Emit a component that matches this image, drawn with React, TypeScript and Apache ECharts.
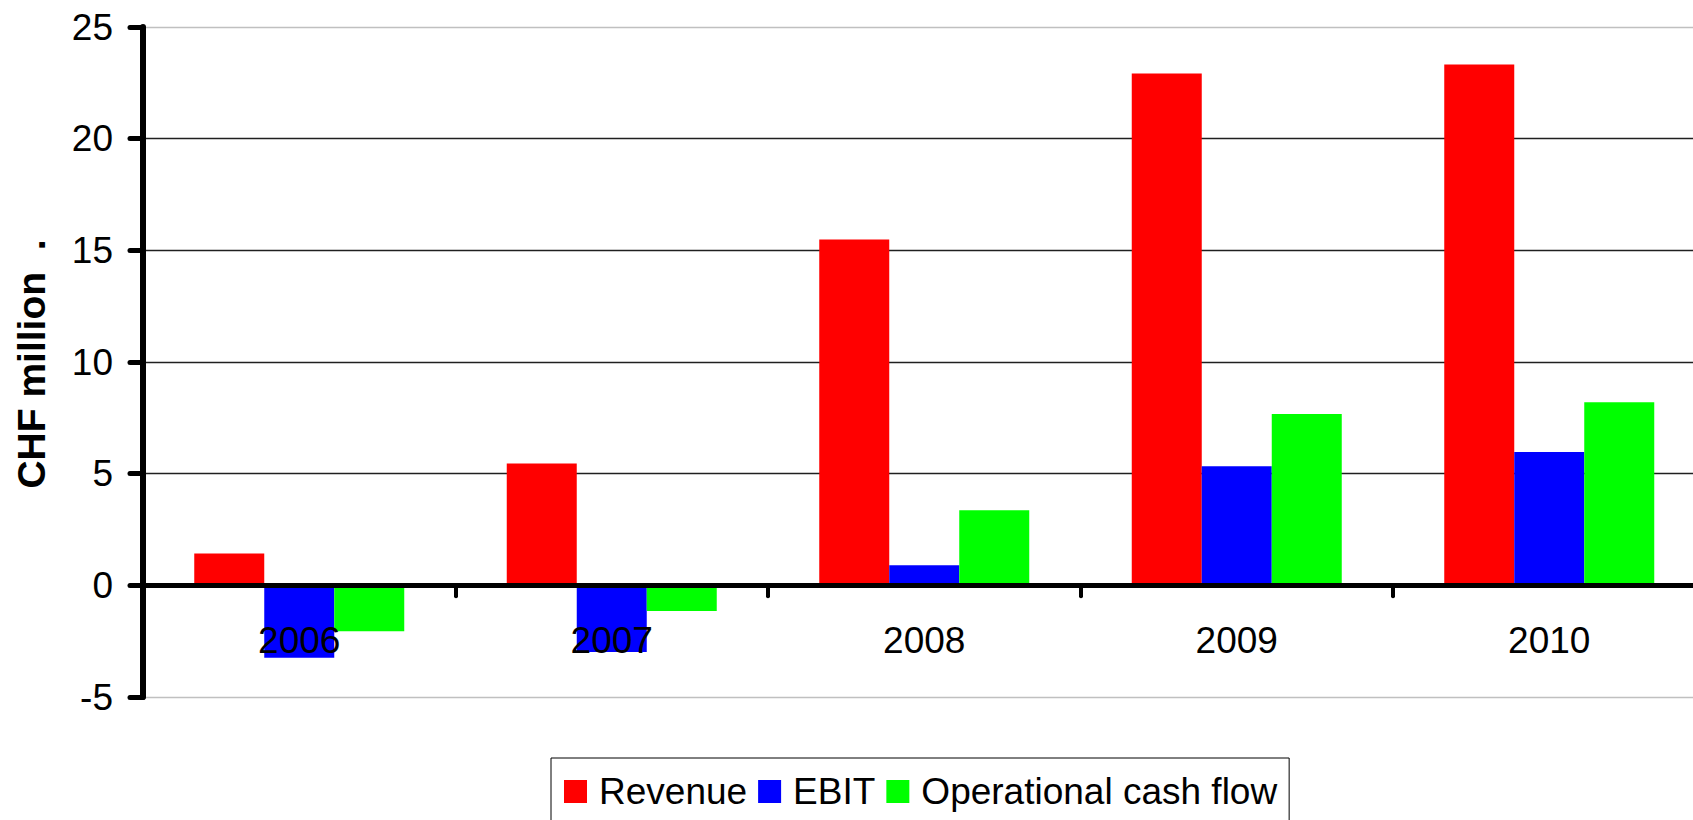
import React, { useEffect, useRef } from "react";
import * as echarts from "echarts";

const categories = ["2006", "2007", "2008", "2009", "2010"];
const revenue = [1.42, 5.46, 15.48, 22.92, 23.32];
const ebit = [-3.24, -2.99, 0.9, 5.33, 5.97];
const operationalCashFlow = [-2.06, -1.15, 3.36, 7.67, 8.2];
const seriesNames = ["Revenue", "EBIT", "Operational cash flow"];
const seriesColors = ["#FF0000", "#0000FF", "#00FF00"];
const yMin = -5;
const yMax = 25;
const yStep = 5;
const yTitle = "CHF million  .";

const FONT = "'Liberation Sans', Arial, sans-serif";

export default function App() {
  const ref = useRef<HTMLDivElement>(null);
  useEffect(() => {
    document.body.style.margin = "0";
    if (!ref.current) return;
    const chart = echarts.init(ref.current, undefined, { renderer: "svg" });
    const data = [revenue, ebit, operationalCashFlow];
    chart.setOption({
      animation: false,
      backgroundColor: "#ffffff",
      textStyle: { fontFamily: FONT, color: "#000" },
      grid: { left: 143, top: 27, bottom: 123, right: -12.5, containLabel: false, outerBoundsMode: "none" },
      legend: {
        data: seriesNames,
        left: 551,
        top: 758,
        orient: "horizontal",
        icon: "rect",
        itemWidth: 23,
        itemHeight: 23,
        itemGap: 11,
        padding: [15, 12, 40, 13],
        borderColor: "#000",
        borderWidth: 1,
        textStyle: { fontSize: 37, fontFamily: FONT, color: "#000", padding: [0, 0, 0, 7] },
      },
      xAxis: {
        type: "category",
        data: categories,
        z: 5,
        axisLine: { show: true, onZero: true, lineStyle: { color: "#000", width: 5 } },
        axisTick: { show: true, alignWithLabel: false, interval: 0, length: 11, lineStyle: { color: "#000", width: 4, cap: "round" } },
        axisLabel: { fontSize: 37, fontFamily: FONT, color: "#000", margin: -75.5, interval: 0 },
        splitLine: { show: false },
      },
      yAxis: {
        type: "value",
        min: yMin,
        max: yMax,
        interval: yStep,
        axisLine: { show: true, lineStyle: { color: "#000", width: 6 } },
        axisTick: { show: true, length: 13, lineStyle: { color: "#000", width: 5, cap: "round" } },
        axisLabel: { fontSize: 37, fontFamily: FONT, color: "#000", margin: 30 },
        splitLine: {
          show: true,
          lineStyle: {
            color: ["#c0c0c0", "#202020", "#202020", "#202020", "#202020", "#202020", "#c0c0c0"],
            width: 1.3,
          },
        },
      },
      graphic: [
        {
          type: "text",
          x: 31,
          y: 364,
          rotation: Math.PI / 2,
          style: {
            text: yTitle,
            fontSize: 39,
            fontWeight: "bold",
            fontFamily: FONT,
            fill: "#000",
            align: "center",
            verticalAlign: "middle",
          },
        },
      ],
      series: seriesNames.map((name, i) => ({
        name,
        type: "bar",
        data: data[i],
        barWidth: 70,
        barGap: "0%",
        itemStyle: { color: seriesColors[i] },
      })),
    });
    return () => chart.dispose();
  }, []);
  return <div ref={ref} style={{ width: 1693, height: 820 }} />;
}
